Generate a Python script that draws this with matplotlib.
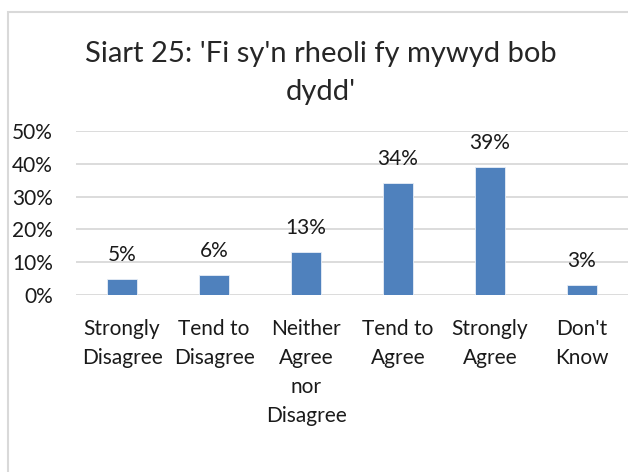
import matplotlib
matplotlib.use("Agg")
import matplotlib.pyplot as plt
from matplotlib.patches import Rectangle
from matplotlib.ticker import FuncFormatter

categories = ["Strongly\nDisagree", "Tend to\nDisagree", "Neither\nAgree\nnor\nDisagree",
              "Tend to\nAgree", "Strongly\nAgree", "Don't\nKnow"]
values = [5, 6, 13, 34, 39, 3]
yticks = [0, 10, 20, 30, 40, 50]
title_lines = ["Siart 25: 'Fi sy'n rheoli fy mywyd bob", "dydd'"]

plt.rcParams['font.family'] = ['Lato', 'DejaVu Sans']

W, H = 628, 472
fig = plt.figure(figsize=(W/100, H/100), dpi=100)
fig.patch.set_facecolor("white")

# chart area border (cropped on right/bottom)
fig.patches.append(Rectangle((8/W, -0.5), 2.0, 0.5 + 1 - 12/H, transform=fig.transFigure,
                             fill=False, edgecolor="#D9D9D9", linewidth=1.5))

ax = fig.add_axes([76/W, (H-295)/H, 1 - 76/W, (295-131)/H])
x = list(range(len(categories)))
ax.bar(x, values, width=0.32, color="#4F81BD", edgecolor="#E8EEF7", linewidth=0.6, zorder=3)
ax.set_xlim(-0.5, len(categories) - 0.5)
ax.set_ylim(0, 50)
ax.set_yticks(yticks)
ax.yaxis.set_major_formatter(FuncFormatter(lambda v, p: f"{int(v)}%"))
ax.grid(axis="y", color="#D9D9D9", linewidth=1.3, zorder=0)
for s in ax.spines.values():
    s.set_visible(False)
ax.tick_params(axis="both", length=0, labelsize=15, colors="#1a1a1a")
ax.tick_params(axis="y", pad=16.5)
ax.tick_params(axis="x", pad=17)
ax.set_xticks(x)
ax.set_xticklabels(categories, linespacing=1.58, va="top")

for xi, v in zip(x, values):
    ax.annotate(f"{v}%", (xi, v), xytext=(0, 13), textcoords="offset points",
                ha="center", va="baseline", fontsize=15, color="#1a1a1a")

for i, line in enumerate(title_lines):
    fig.text(321/W, 1 - (62 + 38*i)/H, line, ha="center", va="baseline",
             fontsize=21, fontweight="normal", color="#262626")

fig.savefig("out.png", dpi=100, facecolor="white")
